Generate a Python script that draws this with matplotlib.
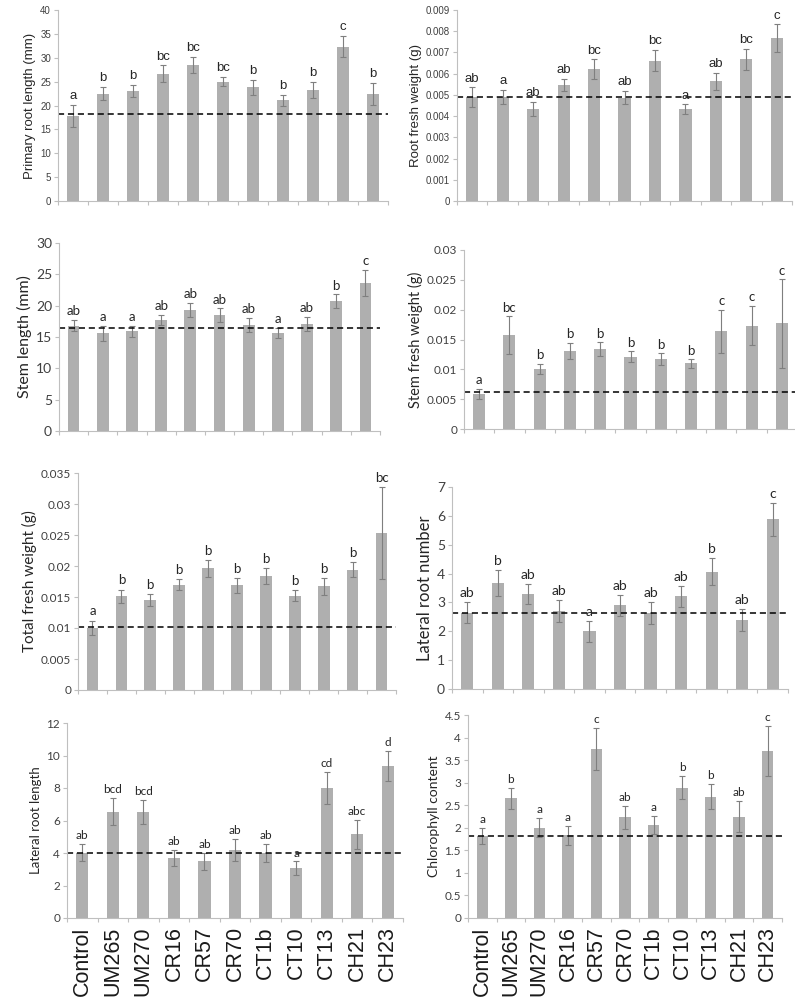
import numpy as np
import matplotlib.pyplot as plt
from matplotlib.ticker import FuncFormatter

strains = ['Control', 'UM265', 'UM270', 'CR16', 'CR57', 'CR70',
           'CT1b', 'CT10', 'CT13', 'CH21', 'CH23']

root_len = [17.9, 22.5, 23.0, 26.7, 28.5, 25.0, 23.8, 21.1, 23.2, 32.3, 22.5]
root_len_err = [2.3, 1.3, 1.3, 1.7, 1.6, 1.0, 1.5, 1.1, 1.7, 2.2, 2.3]
root_len_sig = ['a', 'b', 'b', 'bc', 'bc', 'bc', 'b', 'b', 'b', 'c', 'b']

root_fw = [0.00488, 0.0049, 0.00433, 0.00546, 0.00622, 0.00487,
           0.00661, 0.00433, 0.00565, 0.00667, 0.00766]
root_fw_err = [0.00047, 0.00033, 0.00033, 0.0003, 0.00045, 0.0003,
               0.0005, 0.00022, 0.0004, 0.0005, 0.00066]
root_fw_sig = ['ab', 'a', 'ab', 'ab', 'bc', 'ab', 'bc', 'a', 'ab', 'bc', 'c']

stem_len = [16.8, 15.6, 15.9, 17.7, 19.3, 18.5, 16.9, 15.7, 17.1, 20.7, 23.6]
stem_len_err = [0.9, 1.2, 0.9, 0.8, 1.1, 1.05, 1.1, 0.8, 1.1, 1.1, 2.1]
stem_len_sig = ['ab', 'a', 'a', 'ab', 'ab', 'ab', 'ab', 'a', 'ab', 'b', 'c']

stem_fw = [0.0059, 0.0157, 0.0101, 0.0131, 0.0134, 0.0121,
           0.0117, 0.0110, 0.0164, 0.0173, 0.0177]
stem_fw_err = [0.0008, 0.0032, 0.0008, 0.0013, 0.0011, 0.0009,
               0.001, 0.0007, 0.0036, 0.0033, 0.0074]
stem_fw_sig = ['a', 'bc', 'b', 'b', 'b', 'b', 'b', 'b', 'c', 'c', 'c']

total_fw = [0.0100, 0.0151, 0.0145, 0.0170, 0.0196, 0.0169,
            0.0184, 0.0152, 0.0167, 0.0194, 0.0253]
total_fw_err = [0.0012, 0.0011, 0.001, 0.0009, 0.0013, 0.0012,
                0.0013, 0.0009, 0.0014, 0.0012, 0.0074]
total_fw_sig = ['a', 'b', 'b', 'b', 'b', 'b', 'b', 'b', 'b', 'b', 'bc']

lat_num = [2.64, 3.69, 3.28, 2.70, 2.0, 2.9, 2.64, 3.21, 4.07, 2.39, 5.88]
lat_num_err = [0.36, 0.45, 0.35, 0.38, 0.37, 0.36, 0.39, 0.37, 0.47, 0.38, 0.58]
lat_num_sig = ['ab', 'b', 'ab', 'ab', 'a', 'ab', 'ab', 'ab', 'b', 'ab', 'c']

lat_len = [4.03, 6.54, 6.5, 3.72, 3.48, 4.19, 3.99, 3.07, 7.98, 5.15, 9.35]
lat_len_err = [0.51, 0.84, 0.74, 0.49, 0.55, 0.7, 0.55, 0.41, 0.98, 0.88, 0.92]
lat_len_sig = ['ab', 'bcd', 'bcd', 'ab', 'ab', 'ab', 'ab', 'a', 'cd', 'abc', 'd']

chloro = [1.81, 2.65, 2.0, 1.83, 3.75, 2.23, 2.06, 2.89, 2.69, 2.25, 3.70]
chloro_err = [0.18, 0.23, 0.21, 0.21, 0.46, 0.26, 0.2, 0.26, 0.28, 0.35, 0.55]
chloro_sig = ['a', 'b', 'a', 'a', 'c', 'ab', 'a', 'b', 'b', 'ab', 'c']

# control reference levels (dashed lines)
ref_lines = [18.3, 0.0049, 16.5, 0.00615, 0.0101, 2.63, 4.03, 1.81]

W, H = 795, 1007


def box(x0, x1, ytop, ybot):
    return [x0 / W, 1 - ybot / H, (x1 - x0) / W, (ybot - ytop) / H]


fig = plt.figure(figsize=(W / 100, H / 100), dpi=100)

panels = [
    # vals, err, sig, ylabel, ylim, step, box, font, ticksize, labsize, sigsize
    (root_len, root_len_err, root_len_sig, 'Primary root length (mm)', 40, 5,
     box(58, 388, 10, 201), 'Liberation Sans', 7, 9.5, 9.5),
    (root_fw, root_fw_err, root_fw_sig, 'Root fresh weight (g)', 0.009, 0.001,
     box(457, 792, 10, 201), 'Liberation Sans', 7, 9.5, 9.5),
    (stem_len, stem_len_err, stem_len_sig, 'Stem length (mm)', 30, 5,
     box(59, 380, 243, 431), 'Lato', 10, 11.5, 9.5),
    (stem_fw, stem_fw_err, stem_fw_sig, 'Stem fresh weight (g)', 0.03, 0.005,
     box(464, 797, 250, 429), 'Lato', 8.5, 10.5, 9.5),
    (total_fw, total_fw_err, total_fw_sig, 'Total fresh weight (g)', 0.035, 0.005,
     box(78, 396, 473, 690), 'Lato', 8.5, 11, 9.5),
    (lat_num, lat_num_err, lat_num_sig, 'Lateral root number', 7, 1,
     box(452, 788, 487, 689), 'Lato', 10, 12, 10),
    (lat_len, lat_len_err, lat_len_sig, 'Lateral root length', 12, 2,
     box(67, 403, 723, 918), 'Lato', 8.5, 9.5, 8.5),
    (chloro, chloro_err, chloro_sig, 'Chlorophyll content', 4.5, 0.5,
     box(468, 782, 715, 918), 'Lato', 8.5, 10, 8.5),
]

x_pos = np.arange(len(strains))
for i, (vals, err, sig, ylab, ymax, step, rect, font, tks, lbs, sgs) in enumerate(panels):
    ax = fig.add_axes(rect)
    ax.bar(x_pos, vals, width=0.4, color='#afafaf', yerr=err,
           ecolor='#7f7f7f', error_kw=dict(elinewidth=0.8, capsize=2, capthick=0.8))
    ax.axhline(ref_lines[i], color='black', linestyle=(0, (4, 2.5)), linewidth=1.1)
    for x, v, e, s in zip(x_pos, vals, err, sig):
        ax.text(x, v + e + ymax * 0.015, s, ha='center', va='bottom',
                fontsize=sgs, family=font, color='#262626')
    ax.set_xlim(-0.5, len(strains) - 0.5)
    ax.set_ylim(0, ymax)
    ax.set_yticks(np.arange(0, ymax + step / 2, step))
    ax.yaxis.set_major_formatter(FuncFormatter(lambda v, p: '%g' % round(v, 6)))
    ax.set_ylabel(ylab, fontsize=lbs, family=font, color='#262626', labelpad=3)
    for sp in ['top', 'right']:
        ax.spines[sp].set_visible(False)
    for sp in ['left', 'bottom']:
        ax.spines[sp].set_color('#bfbfbf')
        ax.spines[sp].set_linewidth(0.8)
    ax.tick_params(axis='y', labelsize=tks, colors='#bfbfbf', labelcolor='#404040',
                   length=3, width=0.8, pad=2)
    for t in ax.get_yticklabels():
        t.set_family(font)
    # category-boundary tick marks, Excel style
    ax.set_xticks(np.arange(-0.5, len(strains), 1.0), minor=True)
    ax.tick_params(axis='x', which='minor', length=3, width=0.8, colors='#bfbfbf')
    ax.set_xticks(x_pos)
    if i >= 6:
        ax.set_xticklabels(strains, rotation=90, fontsize=15.5,
                           family='Liberation Sans', color='#1a1a1a')
        ax.tick_params(axis='x', which='major', length=0, pad=6)
    else:
        ax.set_xticklabels([])
        ax.tick_params(axis='x', which='major', length=0)

plt.savefig('out.png', dpi=100)
